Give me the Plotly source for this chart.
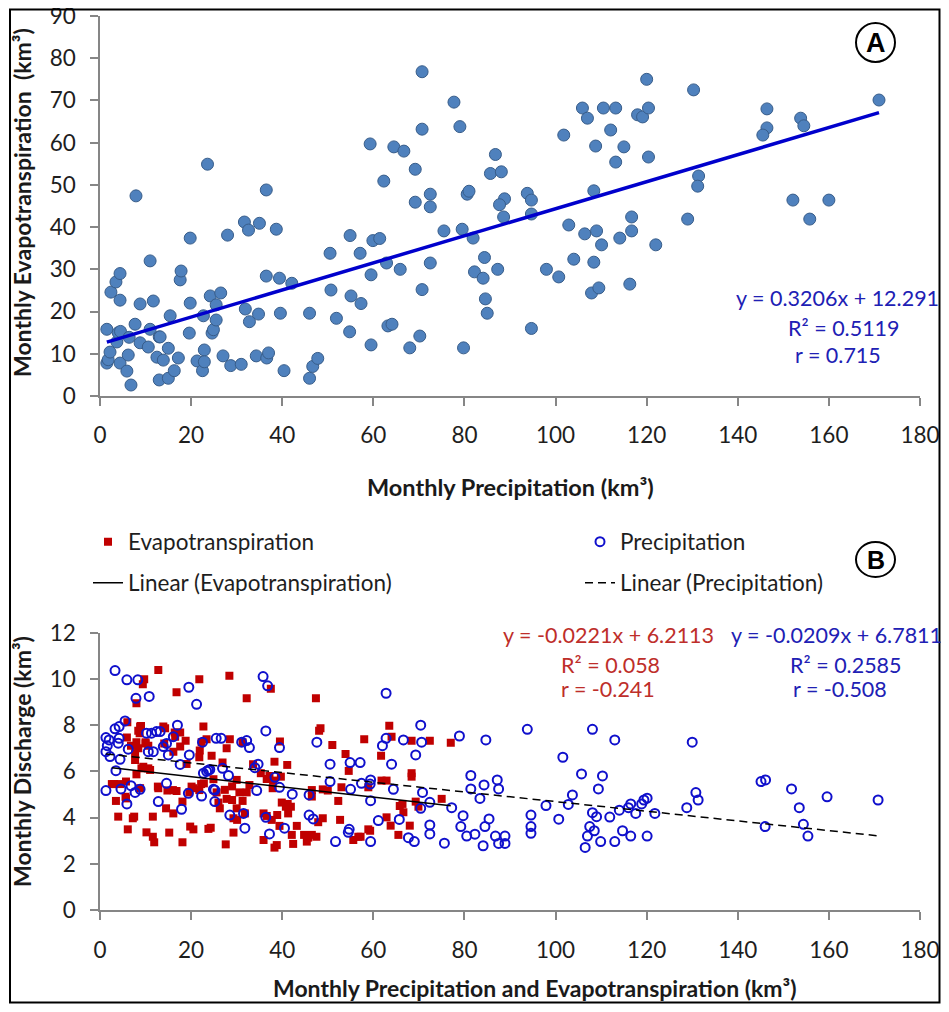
import numpy as np
import plotly.graph_objects as go

# ---------------- DATA ----------------
# Panel A: monthly precipitation (x) vs monthly evapotranspiration (y), km3
precip_a = [1.5, 1.5, 1.8, 2.2, 2.4, 3.5, 4.4, 3.7, 4.0, 4.5, 4.4, 4.4, 5.9, 6.2, 6.8, 6.4, 7.9, 7.7,
            8.8, 8.8, 10.6, 11.0, 11.0, 11.7, 12.5, 13.0, 13.2, 13.0, 13.9, 15.0, 15.0, 15.4, 16.3, 17.2,
            17.6, 17.8, 19.8, 19.8, 19.6, 21.3, 22.5, 22.9, 22.9, 22.7, 23.6, 24.2, 24.6, 24.9, 25.5, 25.5,
            26.5, 27.0, 28.0, 28.7, 31.0, 31.7, 32.6, 31.9, 32.8, 34.3, 34.8, 35.0, 36.5, 36.5, 36.6, 37.0,
            38.7, 39.4, 39.6, 40.4, 42.1, 46.0, 46.0, 46.7, 47.8, 50.5, 50.7, 51.9, 54.8, 54.9, 55.1, 57.1,
            57.3, 59.3, 59.5, 59.5, 59.9, 61.4, 62.3, 62.9, 63.2, 64.1, 64.5, 65.9, 66.7, 68.0, 69.2, 69.2,
            70.2, 70.7, 70.7, 70.7, 72.5, 72.5, 72.5, 75.5, 77.7, 79.0, 79.5, 79.8, 80.6, 81.0, 81.9, 82.2,
            84.4, 84.1, 87.3, 84.6, 85.0, 86.8, 85.7, 88.1, 88.8, 87.7, 88.6, 93.8, 94.7, 94.7, 94.7, 98.0,
            100.7, 101.8, 102.9, 104.0, 105.9, 107.0, 106.4, 108.4, 108.8, 109.0, 110.1, 108.4, 107.9, 109.5,
            110.5, 112.1, 113.2, 113.2, 115.0, 114.1, 116.7, 116.7, 116.3, 118.0, 119.1, 120.0, 120.4, 120.4,
            122.0, 129.0, 130.3, 131.4, 131.2, 146.4, 146.4, 145.5, 152.1, 153.8, 154.5, 155.8, 160.0, 171.0]
evapo_a = [15.8, 7.8, 8.6, 10.4, 24.6, 27.0, 29.0, 12.8, 15.0, 15.3, 22.7, 7.8, 5.9, 9.7, 2.6, 13.9, 47.4, 17.0,
           21.8, 12.6, 11.6, 15.8, 32.0, 22.5, 9.2, 14.0, 14.0, 3.8, 8.5, 11.3, 4.2, 19.0, 6.0, 9.0,
           27.5, 29.6, 37.4, 22.0, 14.9, 8.3, 6.0, 10.9, 8.1, 19.0, 54.9, 23.7, 14.9, 15.7, 21.6, 18.0,
           24.4, 9.5, 38.1, 7.2, 7.5, 41.2, 39.3, 20.6, 17.6, 9.5, 19.4, 40.9, 48.8, 28.4, 9.0, 10.2,
           39.5, 27.9, 19.6, 6.0, 26.7, 19.6, 4.2, 7.0, 8.9, 33.8, 25.1, 18.4, 15.2, 38.0, 23.7, 33.8,
           21.9, 59.7, 28.7, 12.1, 36.8, 37.3, 50.9, 31.5, 16.6, 17.0, 59.0, 30.0, 58.0, 11.4, 53.7, 45.9,
           14.2, 76.8, 63.2, 25.2, 47.8, 44.8, 31.5, 39.1, 69.6, 63.8, 39.5, 11.4, 47.8, 48.5, 37.4, 29.4,
           32.8, 27.9, 30.0, 23.0, 19.6, 57.2, 52.7, 53.1, 46.7, 45.3, 42.4, 48.0, 46.4, 43.1, 16.0, 30.0,
           28.2, 61.8, 40.5, 32.4, 68.2, 65.8, 38.4, 48.6, 59.2, 39.1, 35.8, 31.7, 24.4, 25.6,
           68.2, 63.0, 68.2, 55.4, 59.0, 37.4, 42.4, 39.1, 26.5, 66.6, 66.1, 75.0, 68.2, 56.6,
           35.8, 41.9, 72.5, 52.1, 49.7, 68.0, 63.5, 61.8, 46.4, 65.8, 64.0, 41.9, 46.4, 70.1]

# Panel B: discharge vs evapotranspiration (red) and vs precipitation (blue)
et_b = [12.8, 9.7, 9.4, 8.0, 21.8, 16.8, 28.4, 32.2, 37.5, 47.4, 6.0, 5.9, 6.8, 8.0, 8.8, 8.7, 8.4, 7.7,
        8.0, 9.1, 10.0, 10.6, 11.0, 3.1, 4.4, 5.7, 3.5, 5.7, 4.0, 6.1, 7.2, 7.5, 11.6, 10.2, 11.6, 11.9,
        12.8, 13.9, 14.1, 14.5, 14.8, 15.2, 16.1, 16.0, 16.1, 16.5, 16.8, 17.6, 18.1, 18.1, 18.8, 19.0,
        19.6, 19.8, 20.5, 20.5, 21.8, 21.9, 22.3, 22.7, 21.8, 22.2, 23.4, 24.5, 23.8, 24.3, 24.9, 25.6,
        26.0, 26.3, 26.9, 27.8, 28.5, 27.6, 27.8, 29.0, 30.0, 29.3, 29.3, 30.0, 30.1, 30.6, 31.3, 31.3,
        31.8, 32.2, 32.8, 33.6, 35.9, 35.9, 36.6, 36.6, 37.2, 37.7, 37.9, 38.3, 38.3, 38.8, 38.9, 39.4,
        39.5, 39.7, 39.9, 40.8, 41.1, 41.3, 41.9, 42.1, 42.4, 43.2, 44.8, 45.4, 45.7, 46.5, 47.5, 46.5,
        46.5, 47.9, 48.4, 48.1, 48.9, 48.9, 50.0, 51.0, 52.7, 53.0, 52.3, 53.9, 54.6, 55.6, 56.7, 57.2,
        58.0, 58.9, 58.9, 59.3, 61.7, 61.8, 62.9, 62.9, 63.5, 64.0, 63.8, 65.5, 65.8, 66.6, 66.4, 68.0,
        68.4, 68.4, 68.4, 69.3, 69.9, 72.4, 75.0, 77.0, 2.6, 9.0, 8.4, 14.3, 16.4, 17.6, 10.0, 12.7,
        7.7, 9.5, 10.6, 27.4, 29.0, 35.3, 38.0, 41.2, 8.8, 5.6, 20.1, 22.8]
q_et_b = [10.39, 9.99, 9.77, 8.95, 9.99, 9.42, 10.14, 9.16, 9.57, 9.16, 8.12, 7.47, 7.11, 7.26, 7.94, 7.65, 7.0, 6.49,
          5.87, 6.13, 7.26, 7.11, 6.06, 5.45, 5.45, 5.56, 4.72, 4.83, 4.04, 3.49, 3.97, 4.04, 4.04, 3.36, 3.17, 2.93,
          5.27, 7.94, 7.21, 4.4, 5.17, 3.35, 4.18, 5.19, 6.85, 7.5, 5.15, 7.07, 4.69, 2.93, 7.32, 6.32,
          5.09, 3.61, 3.49, 5.27, 6.61, 6.9, 7.26, 7.94, 5.19, 5.45, 7.39, 6.68, 3.51, 3.56, 5.66, 5.09,
          4.65, 4.4, 6.38, 7.0, 7.39, 2.84, 4.81, 4.76, 5.63, 3.97, 3.35, 4.4, 3.9, 5.09, 4.72, 7.26,
          4.18, 5.09, 5.41, 6.31, 3.03, 4.18, 4.07, 5.67, 5.8, 3.9, 5.27, 6.42, 2.7, 2.81, 4.11, 3.64,
          7.29, 5.77, 4.65, 4.47, 6.28, 4.18, 4.47, 3.25, 2.86, 3.64, 3.25, 2.96, 3.13, 3.25, 3.17, 5.19,
          4.91, 3.8, 7.86, 7.76, 3.97, 5.22, 5.17, 7.14, 3.9, 5.31, 4.72, 6.75, 6.02, 3.03, 3.17, 3.17,
          7.39, 5.31, 3.49, 3.43, 6.68, 5.6, 5.6, 4.01, 7.97, 7.5, 3.65, 3.25, 4.5, 4.23, 4.59, 3.65,
          7.32, 5.92, 5.77, 4.69, 4.47, 7.32, 4.81, 7.24, 5.45, 7.96, 7.76, 7.86, 7.68, 7.68, 7.2, 5.34,
          6.78, 6.2, 6.13, 5.2, 5.35, 5.92, 5.6, 4.59, 5.27, 4.9, 5.34, 5.48]
p_b = [3.3, 5.9, 8.3, 7.9, 10.8, 19.5, 21.2, 35.8, 36.8, 62.8, 5.5, 3.3, 4.2, 1.3, 2.0, 4.2, 4.0, 1.6, 1.3,
       2.2, 4.4, 6.2, 3.5, 1.3, 4.6, 6.8, 7.7, 8.8, 5.9, 10.2, 11.3, 12.4, 13.2, 10.6, 11.7, 13.9, 14.6,
       15.0, 16.1, 17.0, 17.6, 19.6, 17.9, 14.6, 12.8, 19.4, 22.3, 22.5, 22.7, 23.4, 23.8, 24.1, 24.9,
       25.2, 25.2, 25.5, 26.6, 26.9, 28.2, 28.5, 31.1, 32.2, 32.8, 31.5, 31.8, 34.0, 34.7, 34.4, 36.4,
       36.4, 37.2, 39.4, 39.4, 38.4, 40.5, 42.2, 45.9, 45.9, 46.8, 47.6, 50.5, 50.5, 51.7, 54.7, 54.5,
       54.9, 55.0, 57.1, 57.4, 59.3, 59.4, 59.4, 59.4, 61.1, 62.0, 62.8, 64.0, 64.4, 65.7, 66.6, 67.7,
       69.0, 69.3, 70.4, 70.6, 70.4, 70.8, 72.4, 72.4, 72.4, 75.6, 77.2, 78.9, 79.7, 79.2, 80.5, 81.4,
       81.4, 82.3, 83.4, 84.3, 84.7, 84.1, 85.4, 84.5, 87.2, 87.5, 86.8, 87.5, 88.9, 88.9, 93.8, 108.1,
       113.0, 130.0, 101.6, 105.7, 110.3, 109.4, 103.7, 102.8, 97.9, 94.6, 94.6, 94.6, 100.7, 108.1,
       109.0, 107.5, 108.5, 107.0, 106.5, 109.9, 111.9, 113.0, 114.0, 114.7, 116.0, 116.5, 116.5, 117.6,
       118.9, 119.4, 120.1, 120.1, 121.8, 128.8, 130.8, 131.3, 145.1, 146.1, 146.0, 151.8, 153.5, 154.4,
       155.4, 159.6, 170.8]
q_p_b = [10.36, 9.96, 9.96, 9.16, 9.24, 9.64, 8.9, 10.1, 9.7, 9.38, 8.18, 7.84, 7.94, 7.46, 7.36, 7.43, 7.22, 7.11, 6.85,
         6.64, 6.52, 6.96, 6.03, 5.17, 5.24, 5.38, 5.09, 5.22, 4.59, 7.65, 7.65, 7.72, 7.72, 6.85, 6.85, 7.07, 7.21,
         6.71, 7.5, 8.0, 6.3, 6.71, 4.36, 5.48, 4.69, 5.05, 4.93, 7.26, 5.92, 6.0, 6.05, 6.08, 5.22,
         4.69, 5.19, 7.43, 7.43, 6.13, 5.82, 4.11, 7.26, 7.33, 7.03, 4.18, 3.54, 6.16, 6.31, 5.17, 7.75,
         4.01, 3.29, 7.03, 5.31, 5.74, 3.54, 5.01, 4.98, 4.11, 3.94, 7.26, 6.31, 5.56, 2.96, 3.49, 3.36,
         6.38, 5.22, 6.38, 5.48, 5.45, 5.63, 4.73, 2.96, 3.87, 7.11, 7.43, 6.31, 5.22, 3.92, 7.36, 3.13,
         2.96, 6.71, 8.0, 7.26, 4.4, 5.09, 4.66, 3.68, 3.29, 2.89, 4.43, 7.53, 4.08, 3.61, 3.2, 5.82,
         5.24, 3.28, 4.83, 5.41, 7.36, 2.78, 3.94, 3.61, 5.63, 5.24, 3.2, 2.88, 3.2, 2.88, 7.82, 7.82,
         7.36, 7.26, 6.61, 5.89, 5.8, 5.24, 4.98, 4.57, 4.52, 4.11, 3.61, 3.32, 3.93, 4.21,
         4.04, 3.61, 3.43, 3.2, 2.71, 2.96, 4.02, 2.96, 4.32, 3.43, 4.43, 4.59, 3.2, 4.18,
         4.59, 4.76, 4.84, 3.2, 4.18, 4.43, 5.08, 4.76, 5.56, 5.63, 3.61, 5.24, 4.43, 3.71,
         3.2, 4.9, 4.76]

# trendline coefficients (slope, intercept) as printed on the chart
fit_a = [0.3206, 12.291]
fit_et = [-0.0221, 6.2113]
fit_p = [-0.0209, 6.7811]

x_ticks = [0, 20, 40, 60, 80, 100, 120, 140, 160, 180]
ya_ticks = [0, 10, 20, 30, 40, 50, 60, 70, 80, 90]
yb_ticks = [0, 2, 4, 6, 8, 10, 12]

# ---------------- FIGURE ----------------
# the page body adds an 8px margin on every side; the figure fills the rest of the window
OFF = 8
W, H = 949 - 2 * OFF, 1012 - 2 * OFF
def fx(p):
    return (p - OFF) / W
def fy(p):
    return 1 - (p - OFF) / H

FONT = "Lato, 'Open Sans', sans-serif"
AX = "#868686"

fig = go.Figure()

# Panel A
fig.add_trace(go.Scatter(x=precip_a, y=evapo_a, mode="markers", xaxis="x", yaxis="y",
                         marker=dict(size=12, color="#4F81BD", line=dict(color="#385D8A", width=1)),
                         showlegend=False))
xa = np.array([min(precip_a), max(precip_a)])
fig.add_trace(go.Scatter(x=xa, y=fit_a[0] * xa + fit_a[1], mode="lines", xaxis="x", yaxis="y",
                         line=dict(color="#0000CC", width=3.5), showlegend=False))

# Panel B
fig.add_trace(go.Scatter(x=et_b, y=q_et_b, mode="markers", xaxis="x2", yaxis="y2",
                         name="Evapotranspiration", legend="legend",
                         marker=dict(symbol="square", size=8, color="#C00000")))
fig.add_trace(go.Scatter(x=p_b, y=q_p_b, mode="markers", xaxis="x2", yaxis="y2",
                         name="Precipitation", legend="legend2",
                         marker=dict(symbol="circle-open", size=9, color="#1010CC", line=dict(width=2))))
xe = np.array([min(et_b), max(et_b)])
fig.add_trace(go.Scatter(x=xe, y=fit_et[0] * xe + fit_et[1], mode="lines", xaxis="x2", yaxis="y2",
                         name="Linear (Evapotranspiration)", legend="legend3",
                         line=dict(color="black", width=1.5)))
xp = np.array([min(p_b), max(p_b)])
fig.add_trace(go.Scatter(x=xp, y=fit_p[0] * xp + fit_p[1], mode="lines", xaxis="x2", yaxis="y2",
                         name="Linear (Precipitation)", legend="legend4",
                         line=dict(color="black", width=1.5, dash="8px,5px")))

axis_common = dict(showline=True, linecolor=AX, linewidth=1.5, ticks="outside", ticklen=8,
                   tickcolor=AX, tickwidth=1.5, showgrid=False, zeroline=False, automargin=False,
                   ticklabeloverflow="allow",
                   tickfont=dict(family=FONT, size=22.5, color="#1e1e1e"))

fig.update_layout(
    width=W, height=H, margin=dict(l=0, r=0, t=0, b=0, autoexpand=False),
    paper_bgcolor="white", plot_bgcolor="white",
    xaxis=dict(domain=[fx(100), fx(920)], range=[0, 180], tickvals=x_ticks, anchor="y",
               ticklabelstandoff=10, **axis_common),
    yaxis=dict(domain=[fy(396), fy(16)], range=[0, 90], tickvals=ya_ticks, anchor="x",
               ticklabelstandoff=10, **axis_common),
    xaxis2=dict(domain=[fx(100), fx(920)], range=[0, 180], tickvals=x_ticks, anchor="y2",
                ticklabelstandoff=11, **axis_common),
    yaxis2=dict(domain=[fy(910), fy(632.7)], range=[0, 12], tickvals=yb_ticks, anchor="x2",
                ticklabelstandoff=10, **axis_common),
)

leg_font = dict(family=FONT, size=22.5, color="#1e1e1e")
LX1, LX2 = 88, 580
LY1, LY2 = 542, 583
fig.update_layout(
    legend=dict(x=fx(LX1), y=fy(LY1), xanchor="left", yanchor="middle", font=leg_font,
                bgcolor="rgba(0,0,0,0)"),
    legend2=dict(x=fx(LX2), y=fy(LY1), xanchor="left", yanchor="middle", font=leg_font,
                 bgcolor="rgba(0,0,0,0)"),
    legend3=dict(x=fx(LX1), y=fy(LY2), xanchor="left", yanchor="middle", font=leg_font,
                 bgcolor="rgba(0,0,0,0)"),
    legend4=dict(x=fx(LX2), y=fy(LY2), xanchor="left", yanchor="middle", font=leg_font,
                 bgcolor="rgba(0,0,0,0)"),
)

annotations = []
def txt(s, x, y, color, size=21.5, bold=False, angle=0, family=FONT):
    annotations.append(dict(text=("<b>%s</b>" % s) if bold else s, x=fx(x), y=fy(y),
                            xref="paper", yref="paper", xanchor="center", yanchor="middle",
                            showarrow=False, textangle=angle,
                            font=dict(family=family, size=size, color=color)))

BLUE_T = "#2020B4"
RED_T = "#BE2E2A"
txt("y = 0.3206x + 12.291", 837, 298, BLUE_T)
txt("R² = 0.5119", 844, 328, BLUE_T)
txt("r = 0.715", 838, 355, BLUE_T)
txt("y = -0.0221x + 6.2113", 608, 635, RED_T)
txt("R² = 0.058", 610, 665, RED_T)
txt("r = -0.241", 608, 689, RED_T)
txt("y = -0.0209x + 6.7811", 836, 635, BLUE_T)
txt("R² = 0.2585", 846, 665, BLUE_T)
txt("r = -0.508", 840, 689, BLUE_T)

TITLE_C = "#1a1a1a"
txt("Monthly Precipitation (km³)", 510, 487, TITLE_C, size=23.5, bold=True)
txt("Monthly Evapotranspiration\u00a0 (km³)", 22, 203, TITLE_C, size=23, bold=True, angle=-90)
txt("Monthly Discharge (km³)", 22, 762, TITLE_C, size=23, bold=True, angle=-90)
txt("Monthly Precipitation and Evapotranspiration (km³)", 535, 988, TITLE_C, size=23, bold=True)
txt("A", 875.5, 43, "black", size=27, bold=True, family="'Liberation Sans', Arial, sans-serif")
txt("B", 875.5, 560, "black", size=25, bold=True, family="'Liberation Sans', Arial, sans-serif")
fig.update_layout(annotations=annotations)

fig.update_layout(shapes=[
    dict(type="circle", xref="paper", yref="paper", x0=fx(856), x1=fx(895), y0=fy(62), y1=fy(23),
         line=dict(color="black", width=2)),
    dict(type="circle", xref="paper", yref="paper", x0=fx(856), x1=fx(895), y0=fy(577), y1=fy(542),
         line=dict(color="black", width=2)),
    dict(type="rect", xref="paper", yref="paper", x0=fx(10), x1=fx(939.5), y0=fy(1002.5), y1=fy(9.5),
         line=dict(color="black", width=2)),
])

fig.write_html("out.html")
